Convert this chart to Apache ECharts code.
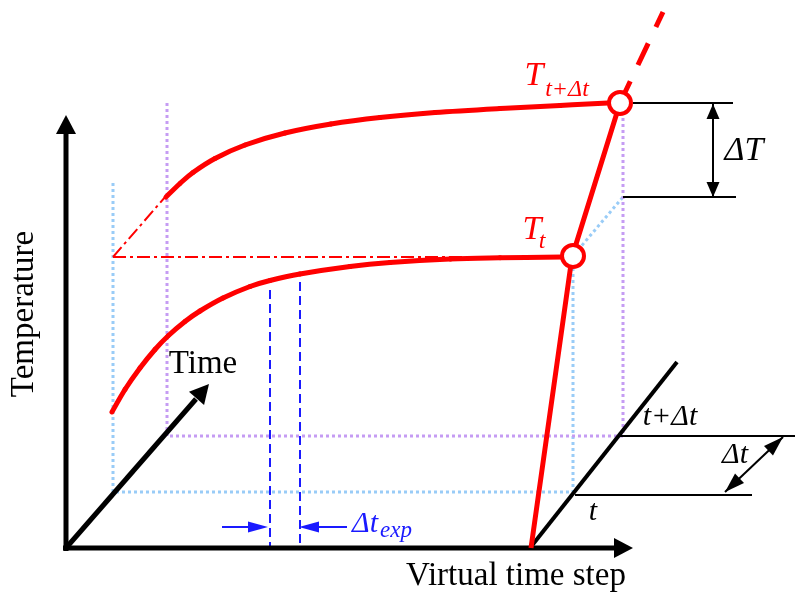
<!DOCTYPE html>
<html>
<head>
<meta charset="utf-8">
<script src="https://cdn.jsdelivr.net/npm/echarts@6/dist/echarts.min.js"></script>
<style>
  html, body { margin: 0; padding: 0; background: #ffffff; }
  #chart { width: 795px; height: 593px; }
</style>
</head>
<body>
<div id="chart"></div>
<script>
// Drawing units: x grows to the right, y grows downward.

// Main axes (shafts end where the arrow heads begin)
const temperatureAxis = [[66, 551], [66, 131]];
const stepAxis = [[63, 548], [616, 548]];
const timeAxis = [[66, 548], [196, 399]];
const mainArrowTips = [[[66, 115], [66, 548]], [[633, 548], [66, 548]], [[209, 384], [66, 548]]];

// Temperature history at time t and at t + Δt
const curveAtT = [[112, 412], [125, 389.5], [140, 368], [155, 349.5], [168, 336], [185, 321.5],
  [200, 311], [223, 298], [250, 286.5], [270, 280.5], [300, 274], [350, 266.5], [390, 262.5],
  [450, 259], [500, 257.8], [562, 257]];
const curveAtNextT = [[166, 197], [180, 183.5], [193, 172.5], [215, 158.5], [245, 145], [285, 133],
  [331, 124], [380, 117.5], [435, 112.5], [500, 108.5], [560, 105.5], [608, 103]];

// Virtual time-step path linking the two end states
const stepPath = [[531, 548], [572, 257], [620, 103]];
const stepPathAhead = [[620, 103], [663, 12]];
const endStates = [[573, 256], [620, 103]];

// Construction lines
const startLevel = [[[113, 257], [166, 196]], [[113, 257], [470, 257]]];
const planeAtT = [[[113, 183], [113, 492], [573, 492], [573, 268]], [[578, 250], [623, 197]]];
const planeAtNextT = [[[167, 103], [167, 436], [623, 436], [623, 116]]];

// ΔT dimension
const deltaTLevels = [[[633, 103], [733, 103]], [[623, 197], [736, 197]]];
const deltaTShaft = [[713, 104], [713, 197]];
const deltaTTips = [[[713, 104], [713, 197]], [[713, 197], [713, 104]]];

// Time direction on the right and Δt dimension
const timeLine = [[530, 548], [677, 362]];
const timeLevels = [[[620, 436], [795, 436]], [[575, 495], [752, 495]]];
const dtShaft = [[725, 492], [783, 437]];
const dtTips = [[[783, 437], [725, 492]], [[725, 492], [783, 437]]];

// Explicit time step Δt_exp
const expStepLines = [[[270, 290], [270, 548]], [[300, 282], [300, 548]]];
const expStepShafts = [[[222, 527], [255, 527]], [[347, 527], [312, 527]]];
const expStepTips = [[[268, 527], [222, 527]], [[299, 527], [347, 527]]];

// Text
const plainLabels = [['Time', 203, 364], ['Virtual time step', 516, 576]];
const verticalLabels = [['Temperature', 24, 314]];
const stateNames = [['T', 534, 76], ['T', 532, 230]];
const stateSubs = [['t+Δt', 567, 90], ['t', 542, 242]];
const deltaTLabel = [['ΔT', 744, 151]];
const timeLabels = [['t+Δt', 670, 417], ['Δt', 735, 455], ['t', 593, 512]];
const expLabel = [['Δt', 365, 524]];
const expSub = [['exp', 396, 531]];

const SERIF = "'Liberation Serif', 'Times New Roman', serif";
const RED = '#ff0000';
const BLUE = '#1a1aff';
const LIGHT_BLUE = '#99ccf7';
const PURPLE = '#c59cf3';

function line(points, color, width, type, z) {
  return {
    type: 'line', data: points, symbol: 'none', showSymbol: false,
    clip: false, silent: true, animation: false, z: z,
    lineStyle: { color: color, width: width, type: type || 'solid', cap: 'butt', join: 'round', opacity: 1 },
    emphasis: { disabled: true }
  };
}

function lines(list, color, width, type, z) {
  return list.map(p => line(p, color, width, type, z));
}

// Smooth curve through the given points: Catmull-Rom segments drawn as cubic Béziers
function curve(points, color, width, z) {
  return {
    type: 'custom', clip: false, silent: true, animation: false, z: z,
    data: [points[0]],
    renderItem: function (params, api) {
      const p = points.map(q => api.coord(q));
      const n = p.length;
      const children = [];
      for (let i = 0; i < n - 1; i++) {
        const p0 = p[Math.max(i - 1, 0)], p1 = p[i], p2 = p[i + 1], p3 = p[Math.min(i + 2, n - 1)];
        children.push({
          type: 'bezierCurve',
          shape: {
            x1: p1[0], y1: p1[1], x2: p2[0], y2: p2[1],
            cpx1: p1[0] + (p2[0] - p0[0]) / 6, cpy1: p1[1] + (p2[1] - p0[1]) / 6,
            cpx2: p2[0] - (p3[0] - p1[0]) / 6, cpy2: p2[1] - (p3[1] - p1[1]) / 6
          },
          style: { stroke: color, lineWidth: width, fill: null, lineCap: 'round' }
        });
      }
      return { type: 'group', children: children };
    }
  };
}

function arrowHeads(list, color, len, hw, z) {
  return {
    type: 'custom', clip: false, silent: true, animation: false, z: z,
    data: list.map(a => [a[0][0], a[0][1], a[1][0], a[1][1]]),
    renderItem: function (params, api) {
      const tip = api.coord([api.value(0), api.value(1)]);
      const from = api.coord([api.value(2), api.value(3)]);
      let dx = tip[0] - from[0], dy = tip[1] - from[1];
      const d = Math.hypot(dx, dy);
      dx /= d; dy /= d;
      const bx = tip[0] - dx * len, by = tip[1] - dy * len;
      return {
        type: 'polygon',
        shape: { points: [tip, [bx - dy * hw, by + dx * hw], [bx + dy * hw, by - dx * hw]] },
        style: { fill: color }
      };
    }
  };
}

function texts(list, size, color, italic, z, rotate) {
  return {
    type: 'scatter', silent: true, animation: false, z: z, symbolSize: 1,
    itemStyle: { color: 'rgba(0,0,0,0)', opacity: 1 },
    data: list.map(t => ({ name: t[0], value: [t[1], t[2]] })),
    label: {
      show: true, position: 'inside', formatter: '{b}', fontFamily: SERIF, fontSize: size,
      color: color, opacity: 1, textBorderWidth: 0, fontStyle: italic ? 'italic' : 'normal',
      rotate: rotate || 0, align: 'center', verticalAlign: 'middle'
    },
    emphasis: { disabled: true }
  };
}

const series = [].concat(
  lines(planeAtT, LIGHT_BLUE, 3, [3, 3], 1),
  lines(planeAtNextT, PURPLE, 3, [3, 3], 1),
  lines(startLevel, RED, 2, [13, 4, 3, 4], 2),
  lines(expStepLines, BLUE, 2, [9, 5], 2),
  lines(expStepShafts, BLUE, 2, 'solid', 2),
  [arrowHeads(expStepTips, BLUE, 20, 5.5, 3)],
  [line(temperatureAxis, '#000', 5, 'solid', 4),
   line(stepAxis, '#000', 5, 'solid', 4),
   line(timeAxis, '#000', 5, 'solid', 4)],
  [arrowHeads(mainArrowTips, '#000', 19, 10, 4)],
  [line(timeLine, '#000', 4, 'solid', 3)],
  lines(timeLevels, '#000', 2, 'solid', 3),
  lines(deltaTLevels, '#000', 2, 'solid', 3),
  [line(deltaTShaft, '#000', 2, 'solid', 3), arrowHeads(deltaTTips, '#000', 15, 6.5, 3)],
  [line(dtShaft, '#000', 2, 'solid', 3), arrowHeads(dtTips, '#000', 20, 6.5, 3)],
  [curve(curveAtT, RED, 5, 5),
   curve(curveAtNextT, RED, 5, 5),
   line(stepPath, RED, 5, 'solid', 5),
   line(stepPathAhead, RED, 5, [24, 18], 5)],
  [{
    type: 'scatter', data: endStates, symbol: 'circle', symbolSize: 22, silent: true,
    animation: false, z: 6,
    itemStyle: { color: '#ffffff', borderColor: RED, borderWidth: 4, opacity: 1 },
    emphasis: { disabled: true }
  }],
  [texts(plainLabels, 33, '#000', false, 7),
   texts(verticalLabels, 33, '#000', false, 7, 90),
   texts(stateNames, 34, RED, true, 7),
   texts(stateSubs, 24, RED, true, 7),
   texts(deltaTLabel, 34, '#000', true, 7),
   texts(timeLabels, 30, '#000', true, 7),
   texts(expLabel, 30, BLUE, true, 7),
   texts(expSub, 23, BLUE, true, 7)]
);

const chart = echarts.init(document.getElementById('chart'), null, { renderer: 'canvas' });
chart.setOption({
  backgroundColor: '#ffffff',
  animation: false,
  grid: { left: 0, right: 0, top: 0, bottom: 0 },
  xAxis: { type: 'value', min: 0, max: 795, show: false },
  yAxis: { type: 'value', min: 0, max: 593, inverse: true, show: false },
  tooltip: { show: false },
  series: series
});
</script>
</body>
</html>
